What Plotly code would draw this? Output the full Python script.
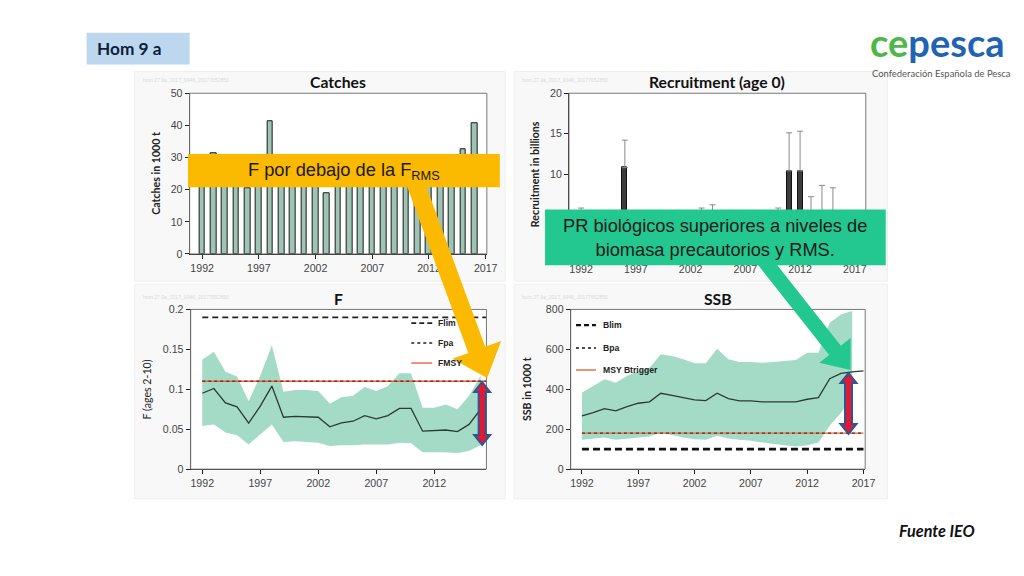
import math
import plotly.graph_objects as go

W, H = 1024, 576

# ---------------- data ----------------
years = list(range(1992, 2017))
catches = [28.0, 31.3, 26.0, 27.0, 20.5, 24.0, 41.3, 25.0, 27.0, 26.0, 22.0, 18.8, 25.0,
           27.0, 26.0, 24.0, 25.0, 27.0, 23.0, 20.3, 24.0, 26.0, 28.0, 32.6, 40.6]

recruitment = [3.0, 2.5, 2.0, 2.2, 10.8, 2.5, 2.8, 3.0, 2.5, 2.0, 2.8, 3.2, 3.5,
               2.6, 2.4, 2.2, 2.0, 2.6, 3.0, 10.4, 10.4, 4.0, 4.5, 4.0, 3.0]
recruitment_hi = [5.8, 4.5, 3.8, 4.0, 14.2, 4.5, 4.8, 5.0, 4.4, 3.8, 4.8, 5.8, 6.2,
                  4.6, 4.3, 4.0, 3.7, 4.6, 5.8, 15.1, 15.3, 7.2, 8.6, 8.3, 5.0]

f_mean = [0.095, 0.101, 0.083, 0.078, 0.0575, 0.079, 0.104, 0.065, 0.066, 0.0655, 0.065, 0.053, 0.058,
          0.060, 0.067, 0.063, 0.067, 0.076, 0.076, 0.0475, 0.048, 0.049, 0.047, 0.056, 0.075]
f_high = [0.137, 0.147, 0.122, 0.116, 0.085, 0.117, 0.155, 0.097, 0.099, 0.099, 0.098, 0.082, 0.090,
          0.092, 0.103, 0.098, 0.104, 0.120, 0.120, 0.077, 0.077, 0.081, 0.075, 0.092, 0.117]
f_low = [0.054, 0.056, 0.046, 0.0425, 0.031, 0.044, 0.056, 0.034, 0.035, 0.034, 0.033, 0.029, 0.030,
         0.030, 0.031, 0.031, 0.031, 0.033, 0.0325, 0.021, 0.021, 0.021, 0.020, 0.023, 0.030]

ssb_years = list(range(1992, 2018))
ssb = [267, 283, 303, 292, 313, 330, 337, 380, 370, 358, 347, 343, 380,
       353, 342, 342, 337, 337, 337, 337, 350, 358, 453, 480, 487, 492]
ssb_high = [383, 417, 450, 433, 467, 492, 508, 575, 567, 550, 530, 530, 603,
            550, 537, 537, 533, 537, 542, 547, 583, 583, 733, 775, 792]
ssb_low = [147, 153, 158, 147, 153, 158, 163, 183, 170, 158, 150, 147, 167,
           153, 147, 142, 133, 125, 120, 113, 120, 133, 217, 283, 358]

Flim, Fpa, Fmsy = 0.19, 0.11, 0.11
Blim, Bpa, Btrigger = 100, 180, 180

year_ticks = [1992, 1997, 2002, 2007, 2012, 2017]
f_year_ticks = [1992, 1997, 2002, 2007, 2012]
catch_ticks = [0, 10, 20, 30, 40, 50]
rec_ticks = [0, 5, 10, 15, 20]
f_ticks = [0, 0.05, 0.1, 0.15, 0.2]
f_tick_text = ["0", "0.05", "0.1", "0.15", "0.2"]
ssb_ticks = [0, 200, 400, 600, 800]

# ---------------- helpers ----------------
# layout positions are given in target-picture pixels; compensate for the
# slight scaling observed between the page and the photographed picture
KX, KY, OY = 0.991, 0.981, 4.3
FS = 1.0 / 0.986

def px(x):
    return (x / KX) / W

def py(y):
    return 1 - ((y - OY) / KY) / H

def rect(x0, y0, x1, y1, **kw):
    d = dict(type="rect", xref="paper", yref="paper",
             x0=px(x0), x1=px(x1), y0=py(y1), y1=py(y0))
    d.update(kw)
    return d

def arrow_path(x0, y0, x1, y1, w, hw, hl, double=False):
    dx, dy = x1 - x0, y1 - y0
    L = math.hypot(dx, dy)
    ux, uy = dx / L, dy / L
    nx, ny = -uy, ux

    def P(s, t):
        return (x0 + ux * s + nx * t, y0 + uy * s + ny * t)

    if double:
        pts = [P(0, 0), P(hl, hw / 2), P(hl, w / 2), P(L - hl, w / 2), P(L - hl, hw / 2),
               P(L, 0), P(L - hl, -hw / 2), P(L - hl, -w / 2), P(hl, -w / 2), P(hl, -hw / 2)]
    else:
        pts = [P(0, w / 2), P(L - hl, w / 2), P(L - hl, hw / 2), P(L, 0),
               P(L - hl, -hw / 2), P(L - hl, -w / 2), P(0, -w / 2)]
    return "M " + " L ".join(f"{px(a):.5f},{py(b):.5f}" for a, b in pts) + " Z"

TICKFONT = dict(family="Liberation Sans", size=10.5 * FS, color="#444444")
BAND = "rgb(163,219,198)"
LINE = "#2b3a35"
ORANGE = "#e8643c"

def xax(dom, rng, ticks, anchor):
    return dict(domain=[px(dom[0]), px(dom[1])], range=rng, tickvals=ticks, anchor=anchor,
                showline=True, linecolor="#222", linewidth=1, ticks="outside", ticklen=4,
                tickcolor="#222", showgrid=False, zeroline=False, tickfont=TICKFONT,
                fixedrange=True)

def yax(dom, rng, ticks, anchor, text=None):
    d = dict(domain=[py(dom[1]), py(dom[0])], range=rng, tickvals=ticks, anchor=anchor,
             showline=True, linecolor="#222", linewidth=1, ticks="outside", ticklen=4,
             tickcolor="#222", showgrid=False, zeroline=False, tickfont=TICKFONT,
             fixedrange=True)
    if text is not None:
        d["ticktext"] = text
    return d

# plot area pixel boxes (x0, x1), (ytop, ybottom)
P1 = ((190, 487.7), (91.7, 252.7))
P2 = ((570, 867.3), (91.7, 253.7))
P3 = ((191, 487.3), (308.3, 468.3))
P4 = ((571.7, 866.7), (308.3, 468.3))

fig = go.Figure()

# Catches
fig.add_trace(go.Bar(x=years, y=catches, width=0.5, xaxis="x", yaxis="y",
                     marker=dict(color="#9ec4b5", line=dict(color="#1a1a1a", width=1))))

# Recruitment
fig.add_trace(go.Bar(x=years, y=recruitment, width=0.45, xaxis="x2", yaxis="y2",
                     marker=dict(color="#3c3c3c", line=dict(color="#111", width=1)),
                     error_y=dict(type="data", symmetric=False,
                                  array=[h - v for h, v in zip(recruitment_hi, recruitment)],
                                  arrayminus=[0] * len(recruitment),
                                  color="#8a8a8a", thickness=1, width=3)))

# F
f_xmax = 2016.5
fig.add_trace(go.Scatter(x=years, y=f_low, mode="lines", line=dict(width=0, color=BAND),
                         xaxis="x3", yaxis="y3", hoverinfo="skip"))
fig.add_trace(go.Scatter(x=years, y=f_high, mode="lines", line=dict(width=0, color=BAND),
                         fill="tonexty", fillcolor=BAND, xaxis="x3", yaxis="y3"))
fig.add_trace(go.Scatter(x=years, y=f_mean, mode="lines", line=dict(width=1.3, color=LINE),
                         xaxis="x3", yaxis="y3"))
fig.add_trace(go.Scatter(x=[years[0], f_xmax], y=[Flim, Flim], mode="lines",
                         line=dict(color="#222", width=1.6, dash="6px,4px"), xaxis="x3", yaxis="y3"))
fig.add_trace(go.Scatter(x=[years[0], f_xmax], y=[Fmsy, Fmsy], mode="lines",
                         line=dict(color=ORANGE, width=1.4), xaxis="x3", yaxis="y3"))
fig.add_trace(go.Scatter(x=[years[0], f_xmax], y=[Fpa, Fpa], mode="lines",
                         line=dict(color="#8b2a1a", width=1.4, dash="dot"), xaxis="x3", yaxis="y3"))

# SSB
fig.add_trace(go.Scatter(x=years, y=ssb_low, mode="lines", line=dict(width=0, color=BAND),
                         xaxis="x4", yaxis="y4", hoverinfo="skip"))
fig.add_trace(go.Scatter(x=years, y=ssb_high, mode="lines", line=dict(width=0, color=BAND),
                         fill="tonexty", fillcolor=BAND, xaxis="x4", yaxis="y4"))
fig.add_trace(go.Scatter(x=ssb_years, y=ssb, mode="lines", line=dict(width=1.3, color=LINE),
                         xaxis="x4", yaxis="y4"))
fig.add_trace(go.Scatter(x=[ssb_years[0], ssb_years[-1]], y=[Blim, Blim], mode="lines",
                         line=dict(color="#111", width=2.6, dash="7px,4px"), xaxis="x4", yaxis="y4"))
fig.add_trace(go.Scatter(x=[ssb_years[0], ssb_years[-1]], y=[Btrigger, Btrigger], mode="lines",
                         line=dict(color=ORANGE, width=1.2), xaxis="x4", yaxis="y4"))
fig.add_trace(go.Scatter(x=[ssb_years[0], ssb_years[-1]], y=[Bpa, Bpa], mode="lines",
                         line=dict(color="#6b2a1a", width=1.2, dash="dot"), xaxis="x4", yaxis="y4"))

fig.update_layout(
    width=W, height=H, margin=dict(l=0, r=0, t=0, b=0, pad=0),
    paper_bgcolor="white", plot_bgcolor="rgba(0,0,0,0)", showlegend=False,
    bargap=0,
    xaxis=xax(P1[0], [1990.9, 2017.1], year_ticks, "y"),
    yaxis=yax(P1[1], [0, 50], catch_ticks, "x"),
    xaxis2=xax(P2[0], [1990.9, 2018.0], year_ticks, "y2"),
    yaxis2=yax(P2[1], [0, 20], rec_ticks, "x2"),
    xaxis3=xax(P3[0], [1991.0, f_xmax], f_year_ticks, "y3"),
    yaxis3=yax(P3[1], [0, 0.2], f_ticks, "x3", f_tick_text),
    xaxis4=xax(P4[0], [1991.0, 2017.15], year_ticks, "y4"),
    yaxis4=yax(P4[1], [0, 800], ssb_ticks, "x4"),
)

shapes = []
# panel backgrounds
for (a, b, c, d) in [(135, 70, 506, 280), (515, 70, 889, 280), (135, 283, 506, 498), (515, 283, 889, 498)]:
    shapes.append(rect(a, b, c, d, fillcolor="#f8f8f8", line=dict(color="#eeeeee", width=1), layer="below"))
# white plot areas + frame
for xr, yr in [("x", "y"), ("x2", "y2"), ("x3", "y3"), ("x4", "y4")]:
    shapes.append(dict(type="rect", xref=xr + " domain", yref=yr + " domain", x0=0, x1=1, y0=0, y1=1,
                       fillcolor="white", line=dict(width=0), layer="below"))
    shapes.append(dict(type="rect", xref=xr + " domain", yref=yr + " domain", x0=0, x1=1, y0=0, y1=1,
                       fillcolor="rgba(0,0,0,0)", line=dict(color="#777", width=1), layer="above"))

# legend keys F
for yy, dash, col, wdt in [(322, "5px,3px", "#222", 1.6), (342, "dot", "#222", 1.4), (362, "solid", ORANGE, 1.4)]:
    shapes.append(dict(type="line", xref="paper", yref="paper", x0=px(412), x1=px(433), y0=py(yy), y1=py(yy),
                       line=dict(color=col, width=wdt, dash=dash), layer="above"))
# legend keys SSB
for yy, dash, col, wdt in [(324, "5px,3px", "#111", 2.4), (347, "dot", "#111", 1.6), (369, "solid", ORANGE, 1.4)]:
    shapes.append(dict(type="line", xref="paper", yref="paper", x0=px(577), x1=px(597), y0=py(yy), y1=py(yy),
                       line=dict(color=col, width=wdt, dash=dash), layer="above"))

YELLOW = "#fbb900"
GREEN = "#22c890"
# yellow arrow + box
shapes.append(dict(type="path", xref="paper", yref="paper",
                   path=arrow_path(410, 165, 488, 377, 18, 52, 30),
                   fillcolor=YELLOW, line=dict(width=0), layer="above"))
shapes.append(rect(188.3, 152.7, 500.7, 186, fillcolor=YELLOW, line=dict(width=0), layer="above"))
# green arrow + box
shapes.append(dict(type="path", xref="paper", yref="paper",
                   path=arrow_path(762, 255, 852, 369, 15, 40, 25),
                   fillcolor=GREEN, line=dict(width=0), layer="above"))
shapes.append(rect(546, 208.3, 887.3, 264, fillcolor=GREEN, line=dict(width=0), layer="above"))
# red double arrows
for (xx, y0, y1) in [(483, 381, 444), (850, 372, 433)]:
    shapes.append(dict(type="path", xref="paper", yref="paper",
                       path=arrow_path(xx, y0, xx, y1, 7, 16, 10, double=True),
                       fillcolor="#e3192f", line=dict(color="#2e5596", width=2), layer="above"))
# Hom box
shapes.append(rect(86.7, 31, 190, 63, fillcolor="#bdd7ee", line=dict(width=0), layer="below"))

fig.update_layout(shapes=shapes)

ann = []
def text(x, y, s, size=12, color="#111", family="Lato", xanchor="center", angle=0, yanchor="middle"):
    ann.append(dict(x=px(x), y=py(y), xref="paper", yref="paper", text=s, showarrow=False,
                    xanchor=xanchor, yanchor=yanchor, textangle=angle,
                    font=dict(size=size * FS, color=color, family=family)))

# titles
text(338.8, 80, "<b>Catches</b>", 15.5, "#111")
text(718.6, 80, "<b>Recruitment (age 0)</b>", 15.5, "#111")
text(339.2, 297, "<b>F</b>", 15.5, "#111")
text(719.2, 297, "<b>SSB</b>", 15.5, "#111")
# y axis titles
text(155.7, 172, "<b>Catches in 1000 t</b>", 10.5, "#222", angle=-90)
text(535.7, 173, "<b>Recruitment in billions</b>", 10.5, "#222", angle=-90)
text(147.7, 388, "F (ages 2-10)", 10.5, "#222", angle=-90)
text(528, 388, "<b>SSB in 1000 t</b>", 10.5, "#222", angle=-90)
# tiny ids
for (a, b) in [(141, 78), (521, 78), (141, 296), (521, 296)]:
    text(a, b, "hom.27.9a_2017_9946_20177652850", 5, "#d9d9d9", "Liberation Sans", xanchor="left")
# legend text
for yy, s in [(322, "Flim"), (342, "Fpa"), (362, "FMSY")]:
    text(437, yy, "<b>" + s + "</b>", 8.5, "#222", "Liberation Sans", xanchor="left")
for yy, s in [(324, "Blim"), (347, "Bpa"), (369, "MSY Btrigger")]:
    text(602, yy, "<b>" + s + "</b>", 8.5, "#222", "Liberation Sans", xanchor="left")
# callouts
text(344.5, 170, "F por debajo de la F<sub>RMS</sub>", 18, "#1a1a1a", "Liberation Sans")
ann.append(dict(x=px(716.6), y=py(236.5), xref="paper", yref="paper",
                text="PR biológicos superiores a niveles de<br>biomasa precautorios y RMS.",
                showarrow=False, xanchor="center", yanchor="middle", align="center",
                font=dict(size=18 * FS, color="#1a1a1a", family="Liberation Sans")))
# header / logo / source
text(95, 47, "<b>Hom 9 a</b>", 17, "#0d1f3c", xanchor="left")
text(870, 40, "<b><span style='color:#4db748'>ce</span><span style='color:#1f63b5'>pesca</span></b>",
     37.5, "#1f63b5", xanchor="left")
text(871.5, 71.7, "Confederación Española de Pesca", 9.3, "#555555", xanchor="left")
text(939, 530, "<b><i>Fuente IEO</i></b>", 16, "#111")

fig.update_layout(annotations=ann)

post = ("document.documentElement.style.margin='0';document.documentElement.style.overflow='hidden';"
        "document.body.style.margin='0';document.body.style.overflow='hidden';"
        "var gd=document.getElementById('{plot_id}');gd.style.position='fixed';"
        "gd.style.left='0px';gd.style.top='0px';")
fig.write_html("out.html", config={"displayModeBar": False}, post_script=post)
